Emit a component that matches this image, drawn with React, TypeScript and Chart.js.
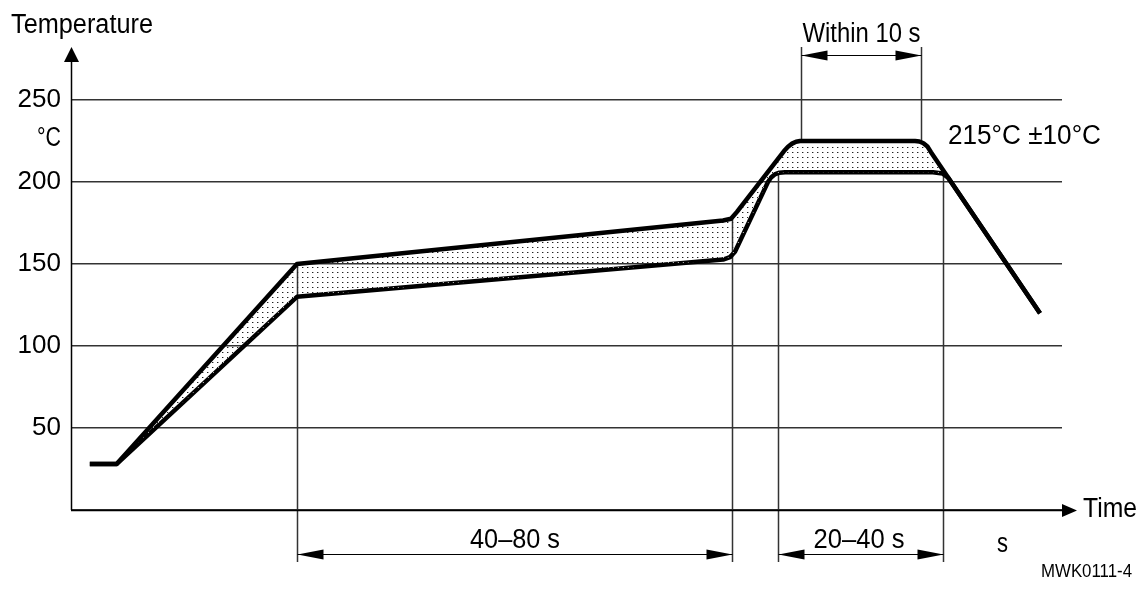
import React, { useEffect, useRef } from 'react';
import { Chart, registerables } from 'chart.js';

Chart.register(...registerables);

// Upper limit of the reflow profile (time in schematic units, temperature in °C)
const upperTime = [1.9, 4.6, 22.8, 65.8, 66.6, 67.2, 71.95, 72.35, 72.76, 73.16, 73.56, 85.17, 85.61, 86.02, 86.42, 86.78, 97.78];
const upperTemp = [28, 28, 150, 176.5, 177.6, 181.8, 218.9, 221.5, 223.4, 224.6, 225, 225, 224.7, 223.6, 221.6, 218.2, 120];
// Lower limit of the reflow profile
const lowerTime = [1.9, 4.6, 22.8, 65.8, 66.5, 67.0, 70.33, 70.64, 71.01, 71.49, 72.05, 86.98, 87.94, 88.5, 97.78];
const lowerTemp = [28, 28, 130, 152.7, 154.2, 157.5, 200, 202.7, 204.6, 205.7, 206, 206, 205.2, 202.7, 120];

const yTickValues = [0, 50, 100, 150, 200, 250];

// Phase boundaries (time units)
const preheatSpan = [22.8, 66.7];
const reflowSpan = [71.3, 88.0];
const peakSpan = [73.7, 85.8];
const spanLabels = ['40–80 s', '20–40 s', 'Within 10 s'];

const FONT = '"Liberation Sans", Arial, sans-serif';

function interp(xs: number[], ys: number[], t: number): number {
  for (let i = 0; i < xs.length - 1; i++) {
    if (t >= xs[i] && t <= xs[i + 1]) {
      const f = (t - xs[i]) / (xs[i + 1] - xs[i] || 1);
      return ys[i] + f * (ys[i + 1] - ys[i]);
    }
  }
  return ys[ys.length - 1];
}

function arrowH(ctx: CanvasRenderingContext2D, x: number, y: number, dir: number, len = 26, half = 5) {
  ctx.beginPath();
  ctx.moveTo(x, y);
  ctx.lineTo(x + dir * len, y - half);
  ctx.lineTo(x + dir * len, y + half);
  ctx.closePath();
  ctx.fill();
}

// draw text condensed to a given width; align 'left' | 'center' | 'right'
function fitText(ctx: CanvasRenderingContext2D, text: string, x: number, baseline: number, width: number, align: string, size = 27) {
  ctx.save();
  ctx.font = `${size}px ${FONT}`;
  ctx.textAlign = 'left';
  ctx.textBaseline = 'alphabetic';
  const w = ctx.measureText(text).width;
  const left = align === 'center' ? x - width / 2 : align === 'right' ? x - width : x;
  ctx.translate(left, baseline);
  ctx.scale(width / w, 1);
  ctx.fillText(text, 0, 0);
  ctx.restore();
}

const annotPlugin = {
  id: 'annot',
  beforeDatasetsDraw(chart: any) {
    const ctx: CanvasRenderingContext2D = chart.ctx;
    const xs = chart.scales.x;
    const ys = chart.scales.y;
    const bottom = chart.chartArea.bottom;
    ctx.save();
    ctx.strokeStyle = '#333';
    ctx.lineWidth = 1.5;
    const vline = (t: number, yTop: number, yBot: number) => {
      const px = Math.round(xs.getPixelForValue(t)) + 0.5;
      ctx.beginPath();
      ctx.moveTo(px, yTop);
      ctx.lineTo(px, yBot);
      ctx.stroke();
    };
    preheatSpan.forEach((t) => vline(t, ys.getPixelForValue(interp(upperTime, upperTemp, t)), bottom + 52));
    reflowSpan.forEach((t) => vline(t, ys.getPixelForValue(interp(lowerTime, lowerTemp, t)), bottom + 52));
    peakSpan.forEach((t) => vline(t, 47, ys.getPixelForValue(interp(upperTime, upperTemp, t))));
    ctx.restore();
  },
  afterDraw(chart: any) {
    const ctx: CanvasRenderingContext2D = chart.ctx;
    const xs = chart.scales.x;
    const { left, right, bottom } = chart.chartArea;
    ctx.save();
    ctx.strokeStyle = '#000';
    ctx.fillStyle = '#000';
    ctx.lineWidth = 1.5;
    // y axis with arrow
    ctx.beginPath();
    ctx.moveTo(left + 0.5, bottom);
    ctx.lineTo(left + 0.5, 60);
    ctx.stroke();
    ctx.beginPath();
    ctx.moveTo(left + 0.5, 47);
    ctx.lineTo(left - 7, 62);
    ctx.lineTo(left + 8, 62);
    ctx.closePath();
    ctx.fill();
    // x axis with arrow
    ctx.beginPath();
    ctx.moveTo(left, bottom + 0.5);
    ctx.lineTo(right + 4, bottom + 0.5);
    ctx.stroke();
    ctx.beginPath();
    ctx.moveTo(right + 15, bottom + 0.5);
    ctx.lineTo(right, bottom - 6);
    ctx.lineTo(right, bottom + 7);
    ctx.closePath();
    ctx.fill();

    // dimension lines
    ctx.lineWidth = 1.2;
    const dim = (span: number[], y: number) => {
      const a = Math.round(xs.getPixelForValue(span[0])) + 0.5;
      const b = Math.round(xs.getPixelForValue(span[1])) + 0.5;
      ctx.beginPath();
      ctx.moveTo(a, y);
      ctx.lineTo(b, y);
      ctx.stroke();
      arrowH(ctx, a, y, 1);
      arrowH(ctx, b, y, -1);
      return (a + b) / 2;
    };
    const c1 = dim(preheatSpan, bottom + 44.5);
    const c2 = dim(reflowSpan, bottom + 44.5);
    const c3 = dim(peakSpan, 55.5);

    fitText(ctx, spanLabels[0], c1, bottom + 38, 90, 'center');
    fitText(ctx, spanLabels[1], c2 - 2, bottom + 38, 91, 'center');
    fitText(ctx, spanLabels[2], c3, 42, 118, 'center');

    fitText(ctx, 'Temperature', 11, 33, 142, 'left');
    fitText(ctx, 'Time', right + 21, bottom + 7, 54, 'left');
    fitText(ctx, '215°C ±10°C', 948, 144, 153, 'left');
    fitText(ctx, 's', 997, bottom + 42, 11, 'left');
    fitText(ctx, '°C', 61, 146, 24, 'right');
    fitText(ctx, 'MWK0111-4', 1132, 577, 91, 'right', 19);
    ctx.restore();
  },
};

export default function App() {
  const ref = useRef<HTMLCanvasElement | null>(null);

  useEffect(() => {
    if (!ref.current) return;
    const pc = document.createElement('canvas');
    pc.width = 5;
    pc.height = 5;
    const pctx = pc.getContext('2d')!;
    pctx.fillStyle = '#222';
    pctx.fillRect(2, 2, 1, 1);
    pctx.fillStyle = '#aaa';
    pctx.fillRect(3, 2, 1, 1);
    const pattern = ref.current.getContext('2d')!.createPattern(pc, 'repeat')!;

    const chart = new Chart(ref.current, {
      type: 'line',
      data: {
        datasets: [
          {
            label: 'upper',
            data: upperTime.map((t, i) => ({ x: t, y: upperTemp[i] })),
            borderColor: '#000',
            borderWidth: 4.5,
            pointRadius: 0,
            tension: 0,
            borderJoinStyle: 'round',
            fill: '+1',
            backgroundColor: pattern as any,
          },
          {
            label: 'lower',
            data: lowerTime.map((t, i) => ({ x: t, y: lowerTemp[i] })),
            borderColor: '#000',
            borderWidth: 4.5,
            pointRadius: 0,
            tension: 0,
            borderJoinStyle: 'round',
            fill: false,
          },
        ],
      },
      options: {
        responsive: false,
        animation: false,
        devicePixelRatio: 1,
        layout: { padding: { top: 100, right: 77, left: 0, bottom: 0 } },
        plugins: { legend: { display: false }, tooltip: { enabled: false } },
        scales: {
          x: {
            type: 'linear',
            min: 0,
            max: 100,
            grid: { display: false },
            border: { display: false },
            ticks: { display: false },
            afterFit: (s: any) => { s.height = 82; },
          },
          y: {
            type: 'linear',
            min: 0,
            max: 250,
            afterBuildTicks: (s: any) => { s.ticks = yTickValues.map((v) => ({ value: v })); },
            grid: { color: '#333', lineWidth: 1.5, drawTicks: false },
            border: { display: false },
            ticks: {
              color: '#000',
              padding: 10,
              font: { family: FONT, size: 26 },
              callback: (v: any) => (v === 0 ? '' : String(v)),
            },
            afterFit: (s: any) => { s.width = 71; },
          },
        },
      },
      plugins: [annotPlugin],
    });
    return () => chart.destroy();
  }, []);

  return (
    <div style={{ position: 'absolute', left: 0, top: 0, width: 1139, height: 592, background: '#fff' }}>
      <canvas ref={ref} width={1139} height={592} />
    </div>
  );
}
